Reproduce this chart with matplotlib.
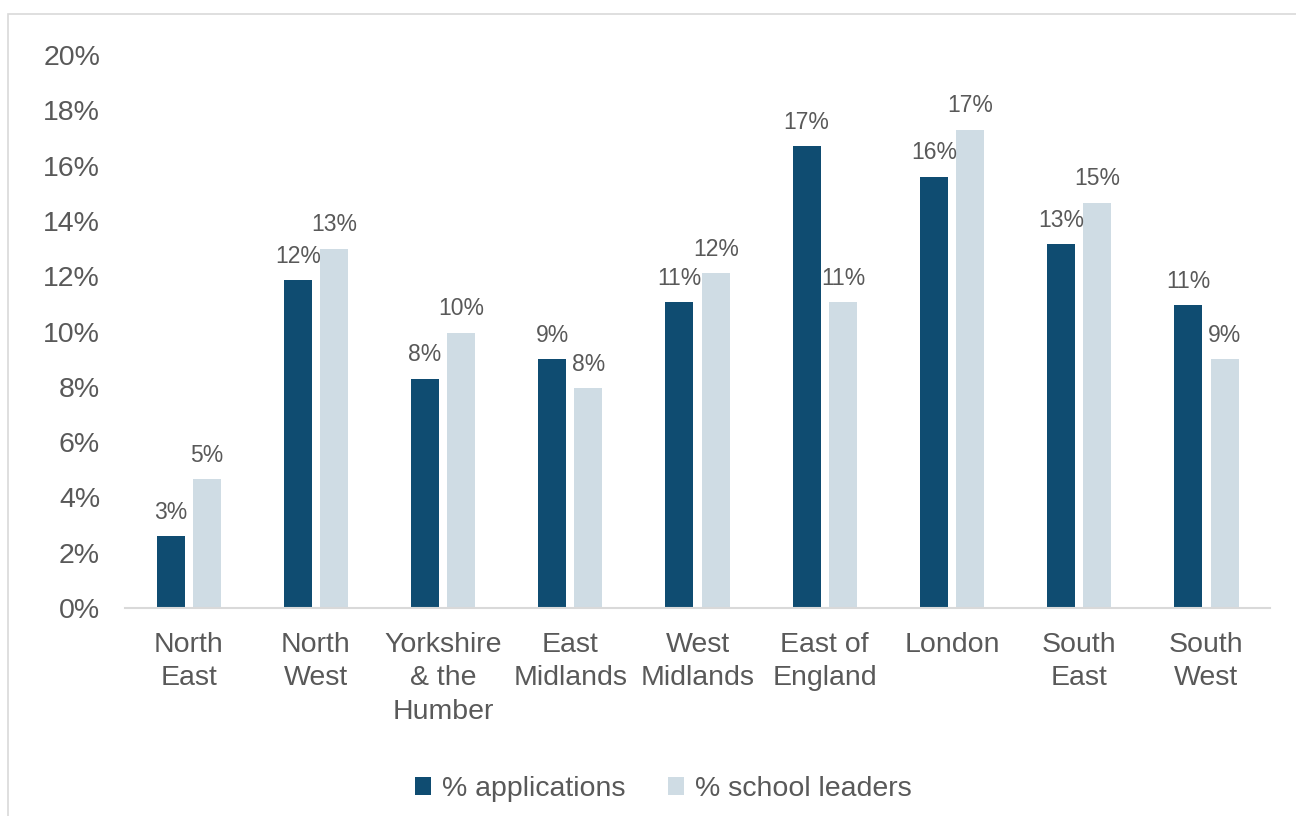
import numpy as np
import matplotlib
matplotlib.use("Agg")
import matplotlib.pyplot as plt
from matplotlib.patches import Rectangle

plt.rcParams['font.family'] = ['Liberation Sans', 'DejaVu Sans']

# Regional share of applications vs. school leaders (%)
regions = ["North\nEast", "North\nWest", "Yorkshire\n& the\nHumber", "East\nMidlands",
           "West\nMidlands", "East of\nEngland", "London", "South\nEast", "South\nWest"]
applications = [2.6, 11.85, 8.3, 9.0, 11.05, 16.7, 15.6, 13.15, 10.95]
school_leaders = [4.65, 13.0, 9.95, 7.95, 12.1, 11.05, 17.3, 14.65, 9.0]

dark = "#0f4c71"
light = "#cfdce4"
grey_text = "#595959"

fig = plt.figure(figsize=(12.96, 8.16), dpi=100)
ax = fig.add_axes([0.0965, 0.2549, 0.8835, 0.6777])

# outer chart frame
fig.patches.append(Rectangle((8 / 1296, -0.1), 1.2, 1 - 14 / 816 + 0.1,
                             transform=fig.transFigure, fill=False,
                             edgecolor="#d9d9d9", linewidth=1.2, zorder=0))

x = np.arange(len(regions))
w = 0.22
gap = 0.065
b1 = ax.bar(x - (w + gap) / 2, applications, w, color=dark, label="% applications")
b2 = ax.bar(x + (w + gap) / 2, school_leaders, w, color=light, label="% school leaders")

for bars, vals in ((b1, applications), (b2, school_leaders)):
    for bar, v in zip(bars, vals):
        ax.text(bar.get_x() + bar.get_width() / 2, v + 0.45, f"{v:.0f}%",
                ha="center", va="bottom", fontsize=16.5, color=grey_text)

ax.set_xlim(-0.5, len(regions) - 0.5)
ax.set_ylim(0, 20)
ax.set_yticks(np.arange(0, 21, 2))
ax.set_yticklabels([f"{t}%" for t in range(0, 21, 2)])
ax.set_xticks(x)
ax.set_xticklabels(regions, linespacing=1.38)
ax.tick_params(axis="y", length=0, pad=18, labelsize=20.5, labelcolor=grey_text)
ax.tick_params(axis="x", length=0, pad=17, labelsize=20.5, labelcolor=grey_text)

for side in ("top", "right", "left"):
    ax.spines[side].set_visible(False)
ax.spines["bottom"].set_color("#d9d9d9")
ax.spines["bottom"].set_linewidth(1.5)

fig.legend(handles=[b1, b2], loc="center", bbox_to_anchor=(0.512, 1 - 789 / 816),
           ncol=2, frameon=False, fontsize=20.5, labelcolor=grey_text,
           handlelength=0.55, handleheight=0.55, handletextpad=0.4, columnspacing=1.5)

fig.savefig("out.png", dpi=100)
